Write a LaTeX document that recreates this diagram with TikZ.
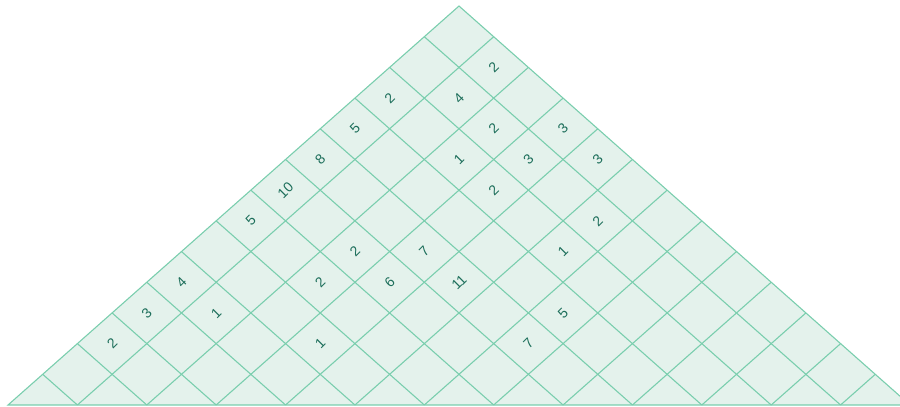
\documentclass[tikz,border=0pt]{standalone}
\usepackage{fontspec}
\setmainfont{Liberation Sans}
\definecolor{gridc}{RGB}{122,206,174}
\definecolor{fillc}{RGB}{228,242,236}
\definecolor{numc}{RGB}{28,110,90}
\begin{document}
\begin{tikzpicture}[x=34.69pt,y=30.69pt,
  gl/.style={draw=gridc,line width=1.1pt},
  num/.style={text=numc,font=\fontsize{14}{14}\selectfont,rotate=45,inner sep=0pt}]
\useasboundingbox (-459pt,-2pt) rectangle (441pt,405pt);
\clip (-459pt,-2pt) rectangle (441pt,405pt);
\fill[fillc] (-13,0)--(0,13)--(13,0)--cycle;
\foreach \k in {1,...,12} {
  \draw[gl] (-13+2*\k,0)--(\k,13-\k);
  \draw[gl] (13-2*\k,0)--(-\k,13-\k);
}
\draw[gl,line join=miter] (-13,0)--(0,13)--(13,0)--cycle;
\foreach \x/\y/\t [count=\i] in {
  1/11/2, 0/10/4, -2/10/2, 1/9/2, 3/9/3, -3/9/5, -4/8/8, 0/8/1, 2/8/3, 4/8/3,
  -5/7/10, 1/7/2, -6/6/5, 4/6/2, -3/5/2, -1/5/7, 3/5/1, -8/4/4, -4/4/2, -2/4/6,
  0/4/11, -9/3/3, -7/3/1, 3/3/5, -10/2/2, -4/2/1, 2/2/7}
  \node[num] (n\i) at (\x,\y) {\t};
\end{tikzpicture}
\end{document}
